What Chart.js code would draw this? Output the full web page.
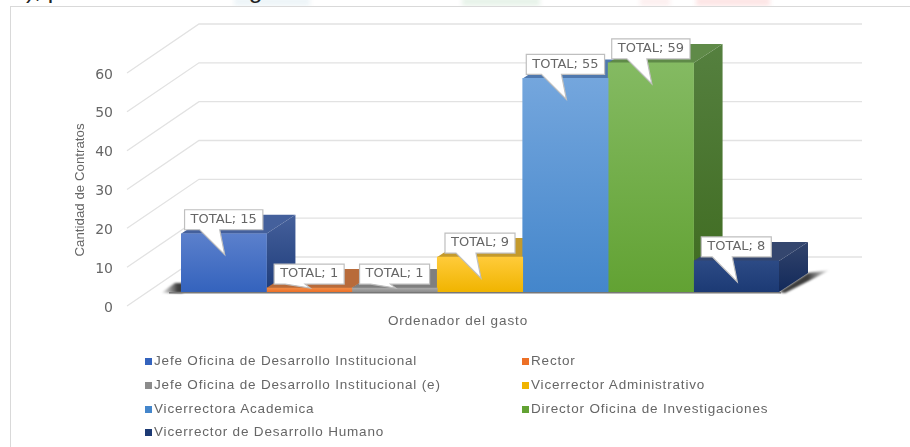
<!DOCTYPE html>
<html lang="es">
<head>
    <meta charset="UTF-8">
    <title>Ordenador del gasto</title>
    <script src="https://cdn.jsdelivr.net/npm/chart.js"></script>
    <style>
        html, body { margin: 0; padding: 0; background: #fff; overflow: hidden; }
        #wrap { position: relative; width: 910px; height: 447px; overflow: hidden; }
        #frame { position: absolute; left: 10px; top: 6px; width: 920px; height: 460px; border: 1px solid #d9d9d9; background: #fff; }
        #cut { position: absolute; left: 0; top: -24px; font: 24.6px "Liberation Sans", sans-serif; color: #222; white-space: nowrap; }
        .blob { position: absolute; top: -3px; height: 9px; filter: blur(2px); }
        #chart { position: absolute; left: 0; top: 0; }
        .key { position: absolute; font: 13.5px "Liberation Sans", sans-serif; letter-spacing: .82px; color: #666; white-space: nowrap; line-height: 16px; }
        .key i { display: inline-block; width: 7px; height: 7px; margin-right: 2px; }
    </style>
</head>
<body>
<div id="wrap">
    <div class="blob" style="left:234px;width:76px;background:#eef5f8"></div>
    <div class="blob" style="left:462px;width:78px;background:#e8f3ea"></div>
    <div class="blob" style="left:640px;width:30px;background:#fdf0f0"></div>
    <div class="blob" style="left:696px;width:74px;background:#fde6e6"></div>
    <div id="cut">os), por ordenador del gasto.</div>
    <div id="frame"></div>
    <canvas id="chart" width="910" height="447"></canvas>
    <div id="legend"></div>
</div>
<script>
    const categories = ["TOTAL"];
    const names = [
        "Jefe Oficina de Desarrollo Institucional",
        "Rector",
        "Jefe Oficina de Desarrollo Institucional (e)",
        "Vicerrector Administrativo",
        "Vicerrectora Academica",
        "Director Oficina de Investigaciones",
        "Vicerrector de Desarrollo Humano"
    ];
    const values = [15, 1, 1, 9, 55, 59, 8];
    const xTitle = "Ordenador del gasto";
    const yTitle = "Cantidad de Contratos";
    const faceTop = ["#5b80cc", "#f08a45", "#a8a8a8", "#ffcb3a", "#74a6dd", "#84ba62", "#2c4a85"];
    const faceBot = ["#3463bd", "#ed7026", "#8c8c8c", "#f0b400", "#4486cb", "#62a233", "#1c3a74"];
    const topFace = ["#44609c", "#b86b3a", "#7f7f7f", "#c49a2c", "#4f78ae", "#5f8a48", "#34466e"];
    const sideTop = ["#45609b", "#a85f30", "#777777", "#b08a28", "#4f78ae", "#55803f", "#32446c"];
    const sideBot = ["#1e3c7a", "#8c4a1c", "#666666", "#8f6d10", "#2f5f99", "#3f6b20", "#12295a"];

    const depthX = 29, depthY = -19;
    const wallX = 18, wallY = -35, wallRight = 862;
    const frontX = -54, frontY = 14;

    const floorAndGrid = {
        id: "floorAndGrid",
        beforeDatasetsDraw(chart) {
            const { ctx, scales: { x, y } } = chart;
            ctx.save();
            ctx.strokeStyle = "#e2e2e2";
            ctx.lineWidth = 1.3;
            y.ticks.forEach(t => {
                const py = y.getPixelForValue(t.value);
                ctx.beginPath();
                ctx.moveTo(x.left + frontX, py + frontY);
                ctx.lineTo(x.left + wallX, py + wallY);
                ctx.lineTo(wallRight, py + wallY);
                ctx.stroke();
            });
            // floor shadow
            const base = y.getPixelForValue(0);
            ctx.filter = "blur(1px)";
            let g = ctx.createLinearGradient(x.left - 20, 0, x.left - 3, 0);
            g.addColorStop(0, "rgba(50,50,50,0)");
            g.addColorStop(1, "rgba(50,50,50,.95)");
            ctx.fillStyle = g;
            ctx.beginPath();
            ctx.moveTo(x.left - 20, base + 1);
            ctx.lineTo(x.left + 2, base + 1);
            ctx.lineTo(x.left + 2, base - 9);
            ctx.lineTo(x.left - 6, base - 9);
            ctx.fill();
            g = ctx.createLinearGradient(x.right + depthX, 0, x.right + depthX + 22, 0);
            g.addColorStop(0, "rgba(50,50,50,.95)");
            g.addColorStop(1, "rgba(50,50,50,0)");
            ctx.fillStyle = g;
            ctx.beginPath();
            ctx.moveTo(x.right, base);
            ctx.lineTo(x.right + depthX, base + depthY);
            ctx.lineTo(x.right + depthX + 22, base + depthY - 3);
            ctx.lineTo(x.right + 6, base + 1);
            ctx.fill();
            ctx.filter = "none";
            ctx.fillStyle = "#777";
            ctx.fillRect(x.left - 12, base, x.right - x.left + 14, 1.5);

            // top and side faces, left to right so each bar hides the side before it
            chart.data.datasets.forEach((ds, i) => {
                const bar = chart.getDatasetMeta(i).data[0];
                const l = bar.x - bar.width / 2, r = bar.x + bar.width / 2;
                ctx.fillStyle = topFace[i];
                ctx.beginPath();
                ctx.moveTo(l, bar.y);
                ctx.lineTo(l + depthX, bar.y + depthY);
                ctx.lineTo(r + depthX, bar.y + depthY);
                ctx.lineTo(r, bar.y);
                ctx.fill();
                const s = ctx.createLinearGradient(0, bar.y + depthY, 0, base);
                s.addColorStop(0, sideTop[i]);
                s.addColorStop(1, sideBot[i]);
                ctx.fillStyle = s;
                ctx.beginPath();
                ctx.moveTo(r, bar.y);
                ctx.lineTo(r + depthX, bar.y + depthY);
                ctx.lineTo(r + depthX, base + depthY);
                ctx.lineTo(r, base);
                ctx.fill();
            });
            ctx.restore();
        }
    };

    const callouts = {
        id: "callouts",
        afterDatasetsDraw(chart) {
            const { ctx, scales: { y } } = chart;
            const base = y.getPixelForValue(0);
            ctx.save();
            ctx.font = '13px "DejaVu Sans", sans-serif';
            chart.data.datasets.forEach((ds, i) => {
                const bar = chart.getDatasetMeta(i).data[0];
                const text = categories[0] + "; " + ds.data[0];
                const w = ctx.measureText(text).width + 12;
                const cx = bar.x, top = bar.y - 24, bottom = bar.y - 4;
                const left = cx - w / 2, right = cx + w / 2;
                const tipY = Math.min(bar.y + 21, base - 4);
                ctx.beginPath();
                ctx.moveTo(left, top);
                ctx.lineTo(right, top);
                ctx.lineTo(right, bottom);
                ctx.lineTo(cx - 4, bottom);
                ctx.lineTo(cx + 1, tipY);
                ctx.lineTo(cx - 24, bottom);
                ctx.lineTo(left, bottom);
                ctx.closePath();
                ctx.fillStyle = "#fff";
                ctx.fill();
                ctx.strokeStyle = "#bfbfbf";
                ctx.lineWidth = 1.2;
                ctx.stroke();
                ctx.fillStyle = "#666";
                ctx.textAlign = "center";
                ctx.textBaseline = "middle";
                ctx.fillText(text, cx, (top + bottom) / 2);
            });
            ctx.restore();
        }
    };

    // the axis titles sit off centre in the original, so they are placed here
    const axisTitles = {
        id: "axisTitles",
        afterDraw(chart) {
            const { ctx } = chart;
            ctx.save();
            ctx.fillStyle = "#666";
            ctx.textAlign = "center";
            ctx.textBaseline = "middle";
            ctx.font = '13.5px "Liberation Sans", sans-serif';
            ctx.letterSpacing = ".9px";
            ctx.fillText(xTitle, 458, 321);
            ctx.letterSpacing = "0px";
            ctx.font = '13.3px "Liberation Sans", sans-serif';
            ctx.translate(80, 190);
            ctx.rotate(-Math.PI / 2);
            ctx.fillText(yTitle, 0, 0);
            ctx.restore();
        }
    };

    new Chart(document.getElementById("chart"), {
        type: "bar",
        data: {
            labels: categories,
            datasets: names.map((name, i) => ({
                label: name,
                data: [values[i]],
                barPercentage: 1,
                categoryPercentage: 1,
                backgroundColor(c) {
                    const y = c.chart.scales.y;
                    if (!c.chart.chartArea || !y) return faceBot[i];
                    const g = c.chart.ctx.createLinearGradient(0, y.getPixelForValue(values[i]), 0, y.getPixelForValue(0));
                    g.addColorStop(0, faceTop[i]);
                    g.addColorStop(1, faceBot[i]);
                    return g;
                }
            }))
        },
        options: {
            responsive: false,
            animation: false,
            layout: { padding: { left: 73, right: 131, top: 59, bottom: 100 } },
            plugins: { legend: { display: false }, tooltip: { enabled: false } },
            scales: {
                x: {
                    grid: { display: false },
                    border: { display: false },
                    ticks: { display: false },
                    afterFit(s) { s.height = 55; }
                },
                y: {
                    min: 0, max: 60,
                    grid: { display: false },
                    border: { display: false },
                    ticks: { stepSize: 10, padding: 60, labelOffset: 16, color: "#666", font: { family: "DejaVu Sans", size: 14 } },
                    // tick padding also pushes the plot top down, drop that
                    afterFit(s) { s.width = 108; s.paddingTop = 0; s.paddingBottom = 0; }
                }
            }
        },
        plugins: [floorAndGrid, callouts, axisTitles]
    });

    // two column legend, same order as the datasets
    const legend = document.getElementById("legend");
    names.forEach((name, i) => {
        const row = Math.floor(i / 2), col = i % 2;
        const el = document.createElement("div");
        el.className = "key";
        el.style.left = (col ? 522 : 145) + "px";
        el.style.top = (353 + row * 23.8) + "px";
        el.innerHTML = '<i style="background:' + faceBot[i] + '"></i>' + name;
        legend.appendChild(el);
    });
</script>
</body>
</html>
